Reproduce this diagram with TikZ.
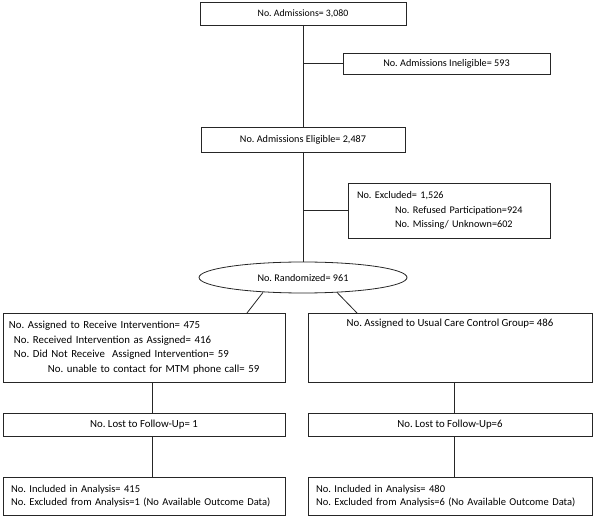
\documentclass[tikz,border=0pt]{standalone}
\usepackage{fontspec}
\setmainfont{Carlito}
\usetikzlibrary{shapes.geometric}
\frenchspacing

\begin{document}
\begin{tikzpicture}[
                        x=1pt,
                        y=1pt,
                        line width=0.8pt,
                        draw=black!85,
                        font=\fontsize{10.2}{14.5}\selectfont
                    ]
                    \tikzstyle{box}=[rectangle,draw=black!85,inner sep=0pt,outer sep=0pt]
                    \tikzstyle{listbox}=[box,align=left,inner xsep=6pt]
                    \tikzstyle{big}=[font=\fontsize{10.8}{14.7}\selectfont]

                    \useasboundingbox (0,0) rectangle (594,525);

                    \node[box,minimum width=206pt,minimum height=23pt,font=\fontsize{9.8}{12}\selectfont] (adm) at (303,511.5) {No. Admissions= 3,080} ;
                    \node[box,minimum width=207pt,minimum height=21pt] (inel)  at (446.5,461.5) {No. Admissions Ineligible= 593} ;
                    \node[box,minimum width=204pt,minimum height=25pt] (elig)  [below of=adm,node distance=126pt] {No. Admissions Eligible= 2,487} ;
                    \node[listbox,inner xsep=9pt,text width=184pt,minimum height=55pt] (excl) at (449,314.5)
                        {No. Excluded= 1,526\\
                         \hspace*{38pt}No. Refused Participation=924\\
                         \hspace*{38pt}No. Missing/ Unknown=602} ;
                    \node[ellipse,draw=black!85,inner sep=0pt,minimum width=208pt,minimum height=31pt] (rand)
                        [below of=elig,node distance=138pt] {No. Randomized= 961} ;

                    \node[listbox,big,text width=270pt,minimum height=69pt] (allocL) at (144,177.5)
                        {No. Assigned to Receive Intervention= 475\\
                         \hspace*{5pt}No. Received Intervention as Assigned= 416\\
                         \hspace*{5pt}No. Did Not Receive\ \ Assigned Intervention= 59\\
                         \hspace*{39pt}No. unable to contact for MTM phone call= 59} ;
                    \node[box,big,minimum width=284pt,text height=10.6pt,text depth=52.4pt,inner ysep=3pt] (allocR)
                        [right of=allocL,node distance=306pt] {No. Assigned to Usual Care Control Group= 486} ;

                    \node[box,big,minimum width=282pt,minimum height=23pt] (lostL) [below of=allocL,node distance=77pt] {No. Lost to Follow-Up= 1} ;
                    \node[box,big,minimum width=284pt,minimum height=23pt] (lostR) [below of=allocR,node distance=77pt] {No. Lost to Follow-Up=6} ;

                    \node[listbox,inner xsep=8pt,text width=266pt,minimum height=38pt,font=\fontsize{10.5}{12.5}\selectfont] (inclL)
                        [below of=lostL,node distance=71.5pt]
                        {No. Included in Analysis= 415\\
                         \mbox{No. Excluded from Analysis=1 (No Available Outcome Data)}} ;
                    \node[listbox,inner xsep=8pt,text width=268pt,minimum height=38pt,font=\fontsize{10.5}{12.5}\selectfont] (inclR)
                        [below of=lostR,node distance=71.5pt]
                        {No. Included in Analysis= 480\\
                         \mbox{No. Excluded from Analysis=6 (No Available Outcome Data)}} ;

                    \path
                    (adm)                      edge (elig)
                    (elig)                     edge (rand)
                    (adm.south |- inel.west)   edge (inel.west)
                    (elig.south |- excl.west)  edge (excl.west)
                    ([xshift=-40pt,yshift=1pt]rand.south) edge ([xshift=-38pt]allocL.north east)
                    ([xshift=34pt,yshift=1pt]rand.south)  edge ([xshift=49pt]allocR.north west)
                    ([xshift=8pt]allocL.south) edge ([xshift=8pt]lostL.north)
                    ([xshift=8pt]lostL.south)  edge ([xshift=8pt]inclL.north)
                    ([xshift=4pt]allocR.south) edge ([xshift=4pt]lostR.north)
                    ([xshift=4pt]lostR.south)  edge ([xshift=4pt]inclR.north) ;

                \end{tikzpicture}
\end{document}
